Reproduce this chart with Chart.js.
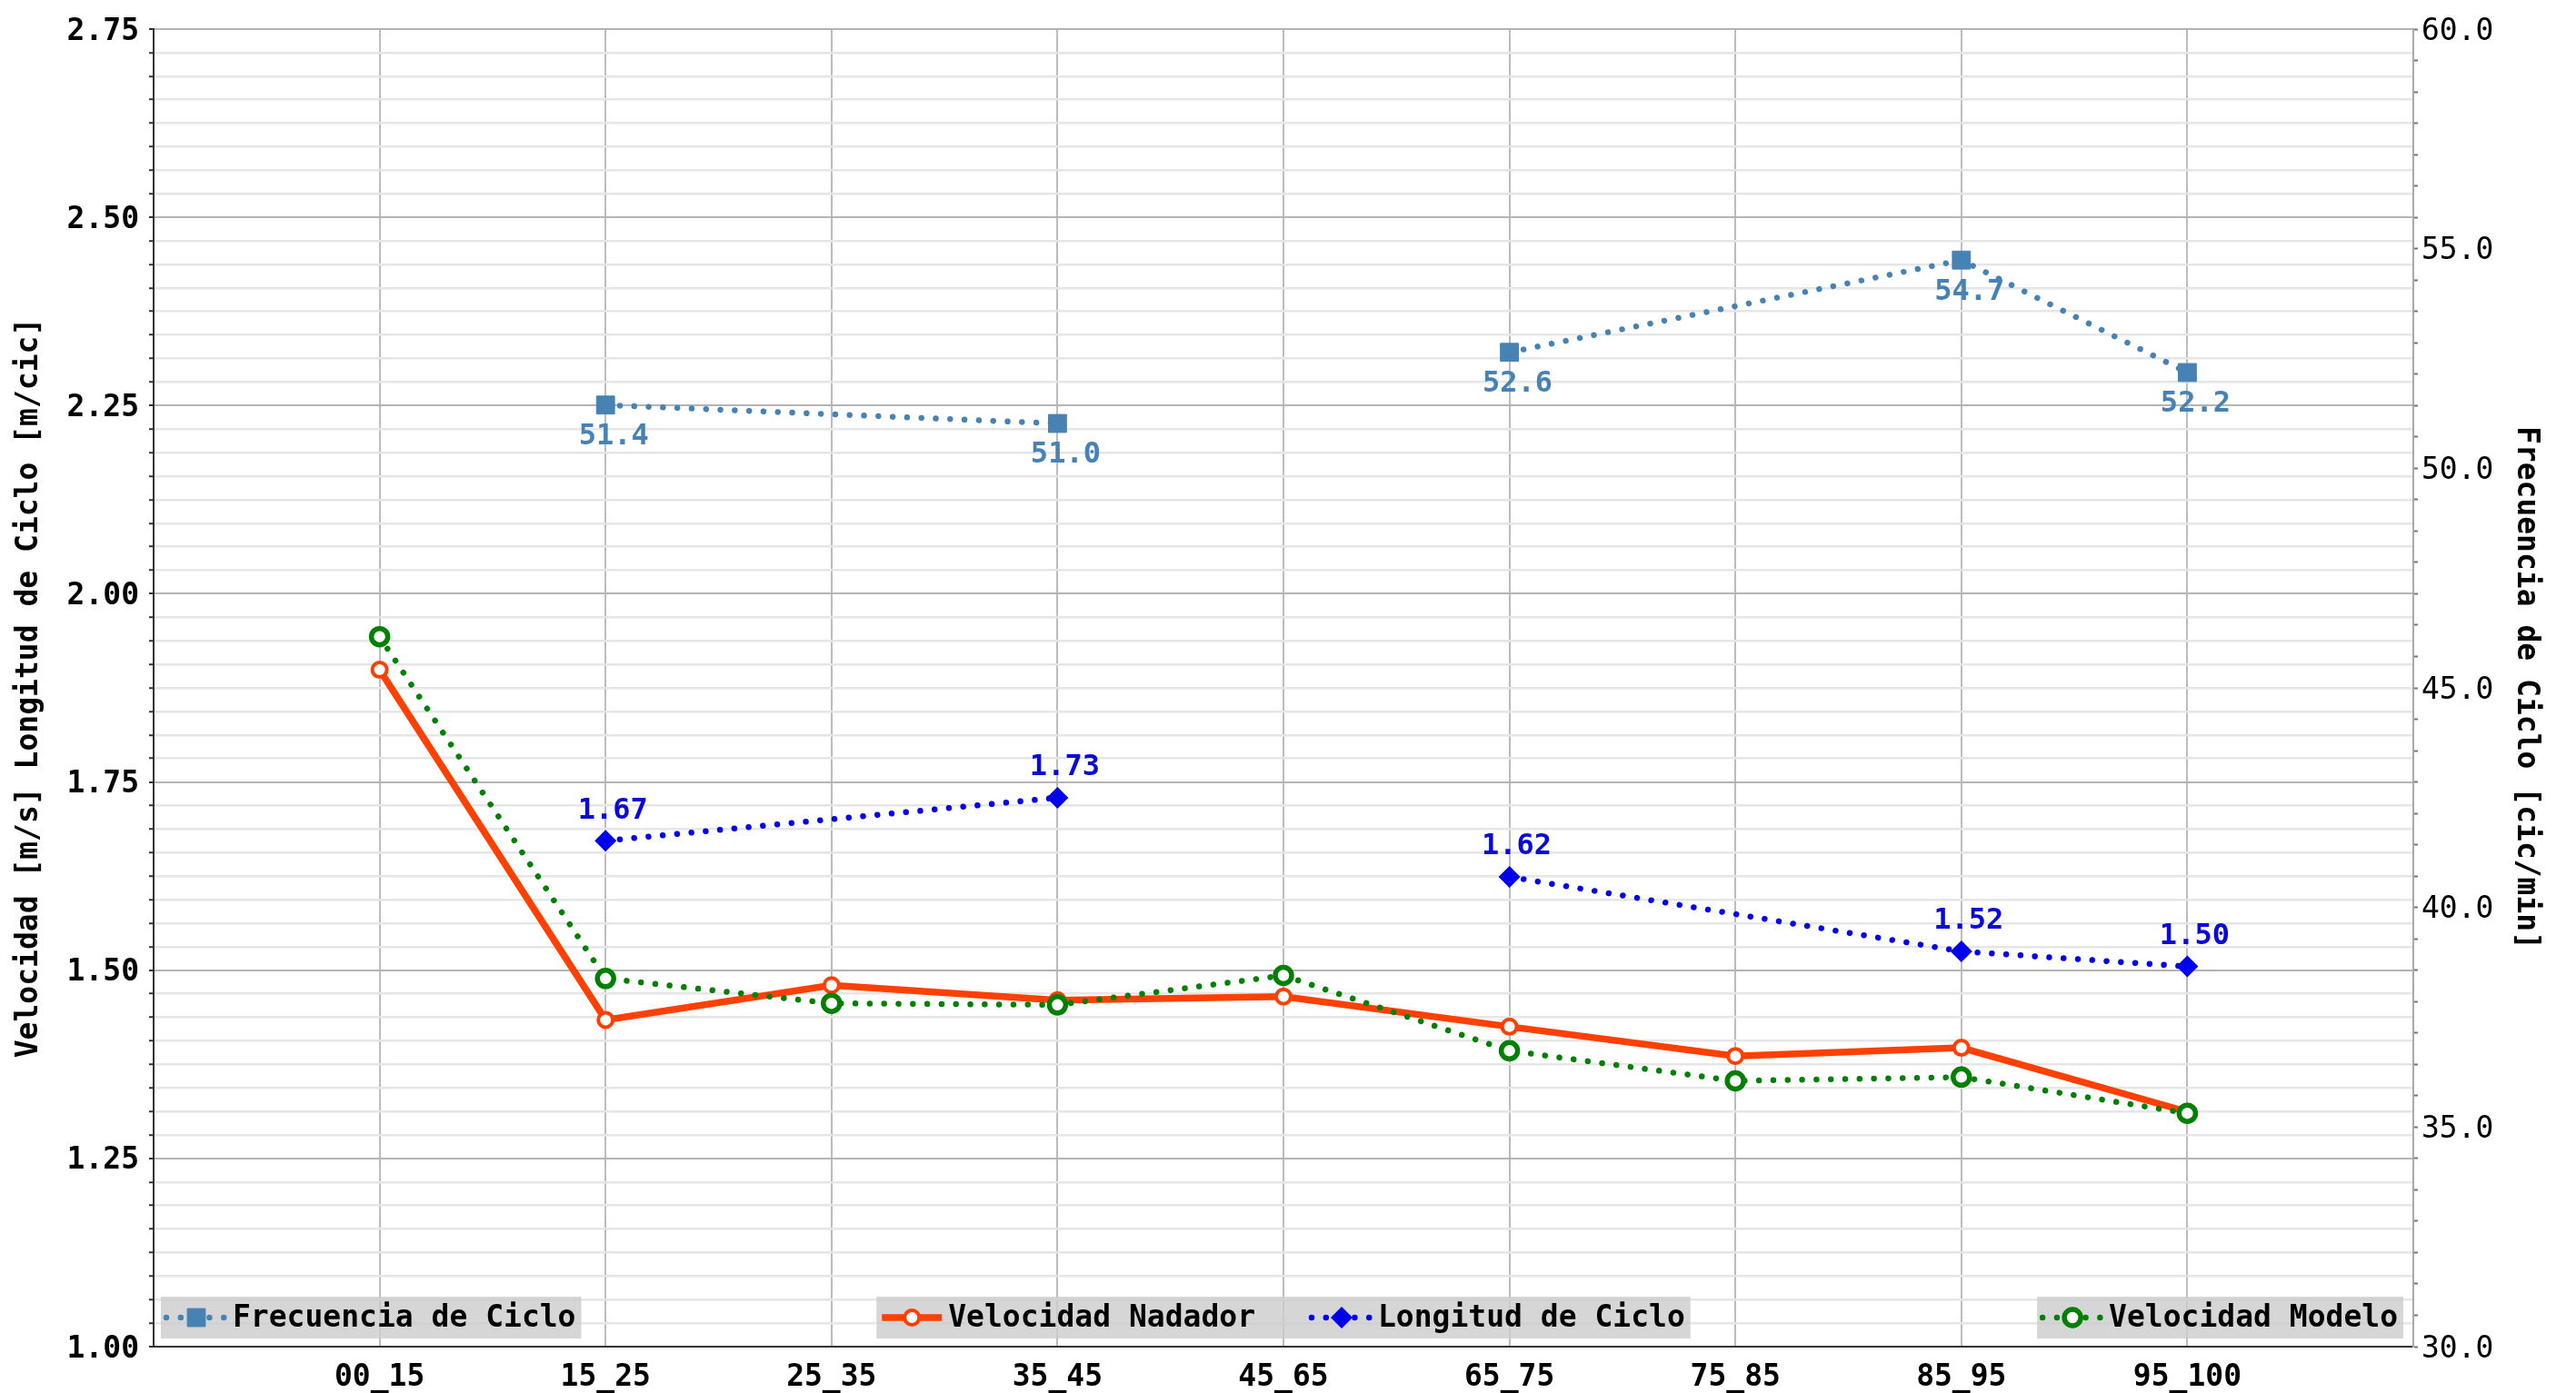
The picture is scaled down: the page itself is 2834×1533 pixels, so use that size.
<!DOCTYPE html>
<html>
<head>
<meta charset="utf-8">
<script src="https://cdn.jsdelivr.net/npm/chart.js@4.4.1/dist/chart.umd.min.js"></script>
<style>
html,body{margin:0;padding:0;background:#fff;overflow:hidden}
canvas{display:block}
</style>
</head>
<body>
<canvas id="c" width="2834" height="1533"></canvas>
<script>
// ---------------- data ----------------
const categories = ['00_15','15_25','25_35','35_45','45_65','65_75','75_85','85_95','95_100'];
const velocidadNadador = [1.899, 1.434, 1.480, 1.460, 1.465, 1.425, 1.386, 1.397, 1.312];
const velocidadModelo  = [1.943, 1.489, 1.456, 1.454, 1.493, 1.393, 1.353, 1.358, 1.310];
const cicloSections    = ['15_25','35_45','65_75','85_95','95_100'];
const longitudCiclo    = [1.672, 1.729, 1.624, 1.525, 1.505];
const frecuenciaCiclo  = [51.44, 51.02, 52.64, 54.74, 52.18];
const lineBreaks       = ['45_65'];
const leftMajorTicks   = [1.00, 1.25, 1.50, 1.75, 2.00, 2.25, 2.50, 2.75];
const rightMajorTicks  = [30, 35, 40, 45, 50, 55, 60];
const leftMinorPerMajor  = 8;
const rightMinorPerMajor = 7;

// ---------------- helpers ----------------
const FONT = '"DejaVu Sans Mono", "Liberation Mono", monospace';
function fullSeries(values){ return values.map((v,i)=>({x:i, y:v})); }
function sectionSeries(sections, values){
  const pts = sections.map((s,k)=>({x:categories.indexOf(s), y:values[k]}));
  lineBreaks.forEach(b=>pts.push({x:categories.indexOf(b), y:null}));
  return pts.sort((a,b)=>a.x-b.x);
}
function minorTicks(major, per){
  const t=[];
  for(let i=0;i<major.length-1;i++){
    const a=major[i], b=major[i+1];
    for(let k=0;k<per;k++) t.push({value:a+(b-a)*k/per, major:k===0});
  }
  t.push({value:major[major.length-1], major:true});
  return t;
}
function isMajor(v, major){ return major.some(m=>Math.abs(m-v)<1e-9); }

function drawMarker(ctx, ds, x, y){
  const r = ds.pointRadius, style = ds.pointStyle || 'circle';
  ctx.save();
  ctx.fillStyle = ds.pointBackgroundColor;
  ctx.strokeStyle = ds.pointBorderColor;
  ctx.lineWidth = ds.pointBorderWidth;
  ctx.setLineDash([]);
  ctx.beginPath();
  if(style==='rect'){
    const s = Math.SQRT1_2*r; ctx.rect(x-s,y-s,2*s,2*s);
  } else if(style==='rectRot'){
    ctx.moveTo(x-r,y); ctx.lineTo(x,y-r); ctx.lineTo(x+r,y); ctx.lineTo(x,y+r); ctx.closePath();
  } else {
    ctx.arc(x,y,r,0,Math.PI*2);
  }
  ctx.fill();
  if(ds.pointBorderWidth>0) ctx.stroke();
  ctx.restore();
}

// value labels
const pointLabelPlugin = {
  id:'pointLabels',
  afterDatasetsDraw(chart){
    const ctx = chart.ctx;
    chart.data.datasets.forEach((ds,di)=>{
      if(!ds.valueLabel) return;
      const meta = chart.getDatasetMeta(di);
      ctx.save();
      ctx.font = 'bold 32px ' + FONT;
      ctx.fillStyle = ds.valueLabel.color;
      ctx.textAlign = 'center';
      ctx.textBaseline = 'middle';
      meta.data.forEach((pt,i)=>{
        const raw = ds.data[i];
        if(raw.y===null || raw.y===undefined) return;
        ctx.fillText(raw.y.toFixed(ds.valueLabel.digits), pt.x+ds.valueLabel.dx, pt.y+ds.valueLabel.dy);
      });
      ctx.restore();
    });
  }
};

// matplotlib-like separate legend boxes
const legendPlugin = {
  id:'mplLegends',
  afterDraw(chart){
    const ctx = chart.ctx, a = chart.chartArea;
    const groups = [{items:[0], align:'left'}, {items:[1,2], align:'center'}, {items:[3], align:'right'}];
    ctx.save();
    ctx.font = 'bold 33px ' + FONT;
    const sampleW = 74, gapTxt = 3, gapItem = 58, padL = 2, padR = 6, h = 46;
    const y0 = a.bottom - 9 - h, yc = y0 + h/2;
    groups.forEach(g=>{
      let w = padL + padR;
      g.items.forEach((di,k)=>{
        w += sampleW + gapTxt + ctx.measureText(chart.data.datasets[di].label).width;
        if(k>0) w += gapItem;
      });
      const x0 = g.align==='left' ? a.left+8 : g.align==='right' ? a.right-11-w : (a.left+a.right)/2 - w/2;
      ctx.fillStyle = 'rgba(204,204,204,0.8)';
      ctx.fillRect(x0, y0, w, h);
      let x = x0 + padL;
      g.items.forEach((di,k)=>{
        if(k>0) x += gapItem;
        const ds = chart.data.datasets[di];
        ctx.save();
        ctx.strokeStyle = ds.borderColor;
        ctx.lineWidth = ds.borderWidth;
        ctx.lineCap = ds.borderCapStyle || 'butt';
        ctx.setLineDash(ds.borderDash || []);
        ctx.beginPath(); ctx.moveTo(x+4, yc); ctx.lineTo(x+sampleW-4, yc); ctx.stroke();
        ctx.restore();
        drawMarker(ctx, ds, x+sampleW/2, yc);
        x += sampleW + gapTxt;
        ctx.fillStyle = '#000';
        ctx.textAlign = 'left';
        ctx.textBaseline = 'middle';
        ctx.fillText(ds.label, x, yc+1);
        x += ctx.measureText(ds.label).width;
      });
    });
    ctx.restore();
  }
};

const leftTicks = minorTicks(leftMajorTicks, leftMinorPerMajor);
const rightTicks = minorTicks(rightMajorTicks, rightMinorPerMajor);
const DOT = [0.01, 15.8];

new Chart(document.getElementById('c'), {
  type:'line',
  data:{
    datasets:[
      {
        label:'Frecuencia de Ciclo', yAxisID:'y1', order:2,
        data: sectionSeries(cicloSections, frecuenciaCiclo),
        borderColor:'#4682b4', borderWidth:6.5, borderDash:DOT, borderCapStyle:'round',
        pointStyle:'rect', pointRadius:14, pointBackgroundColor:'#4682b4', pointBorderColor:'#4682b4', pointBorderWidth:1,
        valueLabel:{digits:1, dx:9, dy:35, color:'#4682b4'}
      },
      {
        label:'Velocidad Nadador', yAxisID:'y', order:3,
        data: fullSeries(velocidadNadador),
        borderColor:'#ff4000', borderWidth:7.5, borderCapStyle:'butt',
        pointStyle:'circle', pointRadius:8, pointBackgroundColor:'#ffffff', pointBorderColor:'#ff4000', pointBorderWidth:4
      },
      {
        label:'Longitud de Ciclo', yAxisID:'y', order:1,
        data: sectionSeries(cicloSections, longitudCiclo),
        borderColor:'#0000ee', borderWidth:6.5, borderDash:DOT, borderCapStyle:'round',
        pointStyle:'rectRot', pointRadius:12, pointBackgroundColor:'#0000ee', pointBorderColor:'#0000ee', pointBorderWidth:0,
        valueLabel:{digits:2, dx:8, dy:-33, color:'#0a0ad8'}
      },
      {
        label:'Velocidad Modelo', yAxisID:'y', order:0,
        data: fullSeries(velocidadModelo),
        borderColor:'#008000', borderWidth:6.5, borderDash:DOT, borderCapStyle:'round',
        pointStyle:'circle', pointRadius:9, pointBackgroundColor:'#ffffff', pointBorderColor:'#008000', pointBorderWidth:5.5
      }
    ]
  },
  options:{
    responsive:false, animation:false, devicePixelRatio:1,
    spanGaps:false,
    layout:{padding:{top:32, left:0, right:0, bottom:0}},
    plugins:{legend:{display:false}, tooltip:{enabled:false}},
    elements:{line:{tension:0}},
    scales:{
      x:{
        type:'linear', min:-1, max:9,
        afterBuildTicks: s => { s.ticks = categories.map((c,i)=>({value:i})); },
        afterFit: s => { s.height = 51; },
        ticks:{autoSkip:false, maxRotation:0, padding:15, color:'#000',
          font:{family:FONT, size:33, weight:'bold'},
          callback: v => categories[Math.round(v)] ?? ''},
        grid:{color:'#bcbcbc', lineWidth:2, drawTicks:false},
        border:{color:'#333', width:2}
      },
      y:{
        type:'linear', position:'left', min:leftMajorTicks[0], max:leftMajorTicks[leftMajorTicks.length-1],
        afterBuildTicks: s => { s.ticks = leftTicks.map(t=>({value:t.value})); },
        afterFit: s => { s.width = 169; },
        ticks:{autoSkip:false, padding:11, labelOffset:3, color:'#000',
          font:{family:FONT, size:33, weight:'bold'},
          callback: v => isMajor(v, leftMajorTicks) ? v.toFixed(2) : ''},
        grid:{
          color: c => (c.tick && isMajor(c.tick.value, leftMajorTicks)) ? '#b4b4b4' : '#e6e6e6',
          lineWidth: c => (c.tick && isMajor(c.tick.value, leftMajorTicks)) ? 2 : 2.5,
          tickColor:'#333', tickLength:5, tickWidth:2
        },
        border:{color:'#333', width:2},
        title:{display:true, text:'Velocidad [m/s] Longitud de Ciclo [m/cic]', color:'#000',
          font:{family:FONT, size:33, weight:'bold'}, padding:{top:13, bottom:0}}
      },
      y1:{
        type:'linear', position:'right', min:rightMajorTicks[0], max:rightMajorTicks[rightMajorTicks.length-1],
        afterBuildTicks: s => { s.ticks = rightTicks.map(t=>({value:t.value})); },
        afterFit: s => { s.width = 179; },
        ticks:{autoSkip:false, padding:4, labelOffset:3, color:'#000',
          font:{family:FONT, size:33},
          callback: v => isMajor(v, rightMajorTicks) ? v.toFixed(1) : ''},
        grid:{drawOnChartArea:false, tickColor:'#777', tickLength:5, tickWidth:2},
        border:{color:'#aaaaaa', width:2},
        title:{display:true, text:'Frecuencia de Ciclo [cic/min]', color:'#000',
          font:{family:FONT, size:33, weight:'bold'}, padding:{top:36, bottom:0}}
      }
    }
  },
  plugins:[pointLabelPlugin, legendPlugin]
});
</script>
</body>
</html>
